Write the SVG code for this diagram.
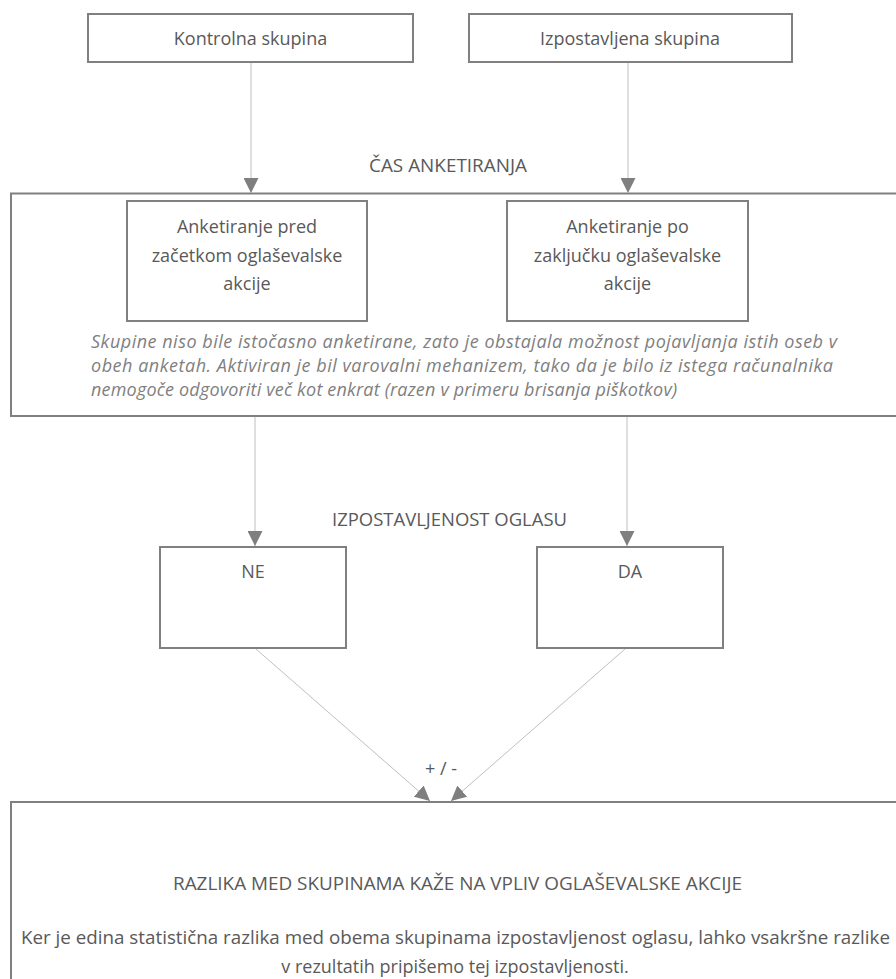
<svg xmlns="http://www.w3.org/2000/svg" width="896" height="979" viewBox="0 0 896 979">
  <defs>
    <style>
      .box { fill: #ffffff; stroke: #808080; stroke-width: 2; }
      .wire { fill: none; stroke: #bfbfbf; stroke-width: 1; }
      .lbl { font-family: "Open Sans", "Liberation Sans", sans-serif; font-size: 18px; fill: #595959; text-anchor: middle; }
      .cap { font-family: "Open Sans", "Liberation Sans", sans-serif; font-size: 18px; fill: #595959; text-anchor: middle; }
      .note { font-family: "Open Sans", "Liberation Sans", sans-serif; font-size: 18px; font-style: italic; fill: #7f7f7f; }
    </style>
    <marker id="head" viewBox="0 0 15 15" refX="15" refY="7.5" markerWidth="15" markerHeight="15" markerUnits="userSpaceOnUse" orient="auto">
      <path d="M0,0 L15,7.5 L0,15 Z" fill="#7f7f7f"/>
    </marker>
  </defs>

  <rect width="896" height="979" fill="#ffffff"/>

  <!-- top groups -->
  <g id="kontrolna">
    <rect class="box" x="88" y="14" width="325" height="48"/>
    <text class="lbl" x="250.5" y="45">Kontrolna skupina</text>
  </g>
  <g id="izpostavljena">
    <rect class="box" x="469" y="14" width="323" height="48"/>
    <text class="lbl" x="630" y="45">Izpostavljena skupina</text>
  </g>

  <!-- survey timing frame -->
  <g id="cas-anketiranja">
    <rect class="box" x="11" y="193.5" width="900" height="222.5"/>
    <text class="note" x="91" y="348" textLength="746" lengthAdjust="spacing">Skupine niso bile istočasno anketirane, zato je obstajala možnost pojavljanja istih oseb v</text>
    <text class="note" x="91" y="372" textLength="742" lengthAdjust="spacing">obeh anketah. Aktiviran je bil varovalni mehanizem, tako da je bilo iz istega računalnika</text>
    <text class="note" x="91" y="396" textLength="586" lengthAdjust="spacing">nemogoče odgovoriti več kot enkrat (razen v primeru brisanja piškotkov)</text>
  </g>
  <g id="pred">
    <rect class="box" x="127" y="201" width="240" height="120"/>
    <text class="lbl" x="247" y="233">Anketiranje pred</text>
    <text class="lbl" x="247" y="262">začetkom oglaševalske</text>
    <text class="lbl" x="247" y="290">akcije</text>
  </g>
  <g id="po">
    <rect class="box" x="507" y="201" width="241" height="120"/>
    <text class="lbl" x="627.5" y="233">Anketiranje po</text>
    <text class="lbl" x="627.5" y="262">zaključku oglaševalske</text>
    <text class="lbl" x="627.5" y="290">akcije</text>
  </g>

  <!-- exposure -->
  <g id="ne">
    <rect class="box" x="160" y="547" width="186" height="101"/>
    <text class="cap" x="253" y="578">NE</text>
  </g>
  <g id="da">
    <rect class="box" x="537" y="547" width="186" height="101"/>
    <text class="cap" x="630" y="578">DA</text>
  </g>

  <!-- result -->
  <g id="razlika">
    <rect class="box" x="11" y="802" width="900" height="200"/>
    <text class="cap" x="457.5" y="890" textLength="569" lengthAdjust="spacingAndGlyphs">RAZLIKA MED SKUPINAMA KAŽE NA VPLIV OGLAŠEVALSKE AKCIJE</text>
    <text class="lbl" x="455.5" y="944" textLength="869" lengthAdjust="spacingAndGlyphs">Ker je edina statistična razlika med obema skupinama izpostavljenost oglasu, lahko vsakršne razlike</text>
    <text class="lbl" x="455" y="973">v rezultatih pripišemo tej izpostavljenosti.</text>
  </g>

  <!-- connectors -->
  <g id="connectors">
    <line class="wire" x1="251" y1="63" x2="251" y2="193" marker-end="url(#head)"/>
    <line class="wire" x1="628" y1="63" x2="628" y2="193" marker-end="url(#head)"/>
    <line class="wire" x1="255" y1="417" x2="255" y2="546" marker-end="url(#head)"/>
    <line class="wire" x1="627" y1="417" x2="627" y2="546" marker-end="url(#head)"/>
    <line class="wire" x1="256" y1="649" x2="430" y2="801" marker-end="url(#head)"/>
    <line class="wire" x1="625" y1="649" x2="451" y2="801" marker-end="url(#head)"/>
    <text class="cap" x="441" y="775">+ / -</text>
    <text class="cap" x="448" y="172" textLength="158" lengthAdjust="spacingAndGlyphs">ČAS ANKETIRANJA</text>
    <text class="cap" x="449.5" y="526" textLength="235" lengthAdjust="spacingAndGlyphs">IZPOSTAVLJENOST OGLASU</text>
  </g>
</svg>
